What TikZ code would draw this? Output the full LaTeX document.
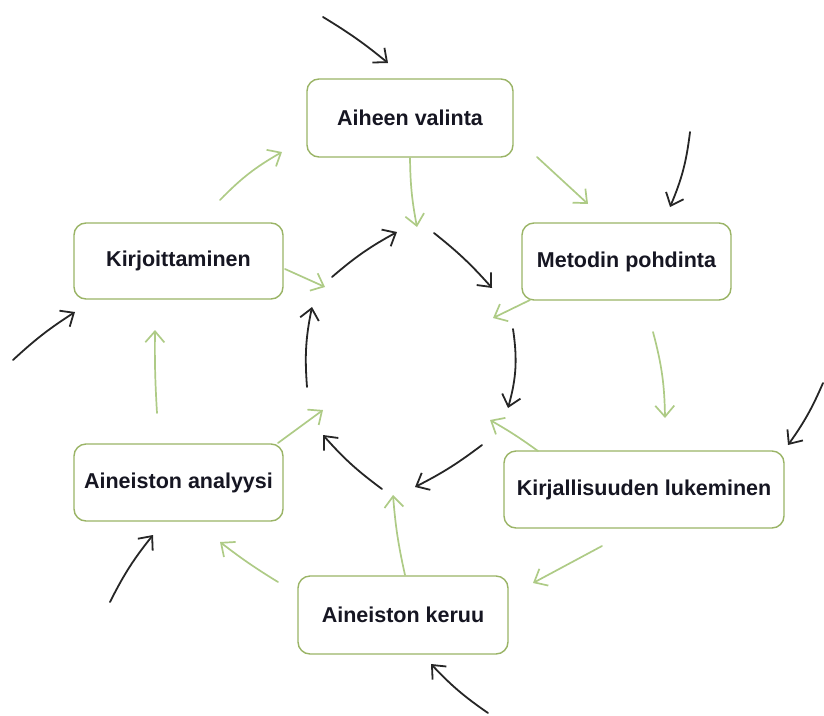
\documentclass[tikz,border=0pt]{standalone}
\usepackage{fontspec}
\setmainfont{Liberation Sans}
\usetikzlibrary{arrows.meta}
\definecolor{boxgreen}{HTML}{9AB466}
\definecolor{arrgreen}{HTML}{AECB86}
\definecolor{txt}{HTML}{161622}
\tikzset{
  stagebox/.style={draw=boxgreen, line width=1.4pt, rounded corners=12pt, fill=white,
    font=\fontsize{21.5}{25}\selectfont\bfseries, text=txt, inner sep=0pt},
  blk/.style={draw=black!85, line width=1.8pt, line cap=round,
    -{Straight Barb[length=11pt,width=19pt,line width=1.8pt]}},
  grn/.style={draw=arrgreen, line width=1.7pt, line cap=round,
    -{Straight Barb[length=11pt,width=19pt,line width=1.7pt]}},
}
\begin{document}
\begin{tikzpicture}[x=1pt,y=-1pt]
\path[use as bounding box] (0,0) rectangle (824,715);
% boxes
\node[stagebox, minimum width=206pt, minimum height=78pt] (aihe) at (410,118) {Aiheen valinta};
\node[stagebox, minimum width=209pt, minimum height=76pt] (kirj) at (178.5,261) {Kirjoittaminen};
\node[stagebox, minimum width=209pt, minimum height=77pt] (meto) at (626.5,261.5) {Metodin pohdinta};
\node[stagebox, minimum width=209pt, minimum height=77pt] (anal) at (178.5,482.5) {Aineiston analyysi};
\node[stagebox, minimum width=210pt, minimum height=78pt] (keru) at (403,615) {Aineiston keruu};
\node[stagebox, minimum width=280pt, minimum height=77pt] (luke) at (644,489.5) {Kirjallisuuden lukeminen};
% coordinates: outer black arrows
\coordinate (o1s) at (323,17);  \coordinate (o1e) at (388,63);
\coordinate (o2s) at (690,132); \coordinate (o2e) at (670,207);
\coordinate (o3s) at (823,383); \coordinate (o3e) at (788,445);
\coordinate (o4s) at (488,713); \coordinate (o4e) at (431,664);
\coordinate (o5s) at (110,602); \coordinate (o5e) at (153,535);
\coordinate (o6s) at (13,360);  \coordinate (o6e) at (75,312);
% inner black cycle
\coordinate (c1s) at (332,277); \coordinate (c1e) at (397,232);
\coordinate (c2s) at (434,233); \coordinate (c2e) at (492,288);
\coordinate (c3s) at (513,329); \coordinate (c3e) at (508,408);
\coordinate (c4s) at (482,445); \coordinate (c4e) at (415,487);
\coordinate (c5s) at (382,489); \coordinate (c5e) at (323,435);
\coordinate (c6s) at (307,387); \coordinate (c6e) at (312,307);
% green arrows
\coordinate (g1s) at (410,158); \coordinate (g1e) at (417,227);
\coordinate (g2s) at (537,157); \coordinate (g2e) at (588,204);
\coordinate (g3s) at (530,300); \coordinate (g3e) at (493,318);
\coordinate (g4s) at (653,332); \coordinate (g4e) at (665,418);
\coordinate (g5s) at (538,451); \coordinate (g5e) at (490,420);
\coordinate (g6s) at (602,546); \coordinate (g6e) at (533,583);
\coordinate (g7s) at (405,575); \coordinate (g7e) at (393,495);
\coordinate (g8s) at (278,582); \coordinate (g8e) at (220,542);
\coordinate (g9s) at (278,443); \coordinate (g9e) at (323,410);
\coordinate (g10s) at (157,413); \coordinate (g10e) at (155,330);
\coordinate (g11s) at (285,269); \coordinate (g11e) at (325,287);
\coordinate (g12s) at (220,200); \coordinate (g12e) at (282,152);
% outer black
\draw[blk] (o1s) to[bend left=4] (o1e);
\draw[blk] (o2s) to[bend left=8] (o2e);
\draw[blk] (o3s) to[bend left=6] (o3e);
\draw[blk] (o4s) to[bend left=6] (o4e);
\draw[blk] (o5s) to[bend left=6] (o5e);
\draw[blk] (o6s) to[bend left=5] (o6e);
% inner black
\draw[blk] (c1s) to[bend left=6] (c1e);
\draw[blk] (c2s) to[bend left=5] (c2e);
\draw[blk] (c3s) to[bend left=12] (c3e);
\draw[blk] (c4s) to[bend left=5] (c4e);
\draw[blk] (c5s) to[bend left=6] (c5e);
\draw[blk] (c6s) to[bend left=8] (c6e);
% green
\draw[grn] (g1s) to[bend right=5] (g1e);
\draw[grn] (g2s) -- (g2e);
\draw[grn] (g3s) -- (g3e);
\draw[grn] (g4s) to[bend left=7] (g4e);
\draw[grn] (g5s) to[bend right=3] (g5e);
\draw[grn] (g6s) -- (g6e);
\draw[grn] (g7s) to[bend left=4] (g7e);
\draw[grn] (g8s) to[bend left=3] (g8e);
\draw[grn] (g9s) -- (g9e);
\draw[grn] (g10s) to[bend left=2] (g10e);
\draw[grn] (g11s) -- (g11e);
\draw[grn] (g12s) to[bend left=8] (g12e);
\end{tikzpicture}
\end{document}
